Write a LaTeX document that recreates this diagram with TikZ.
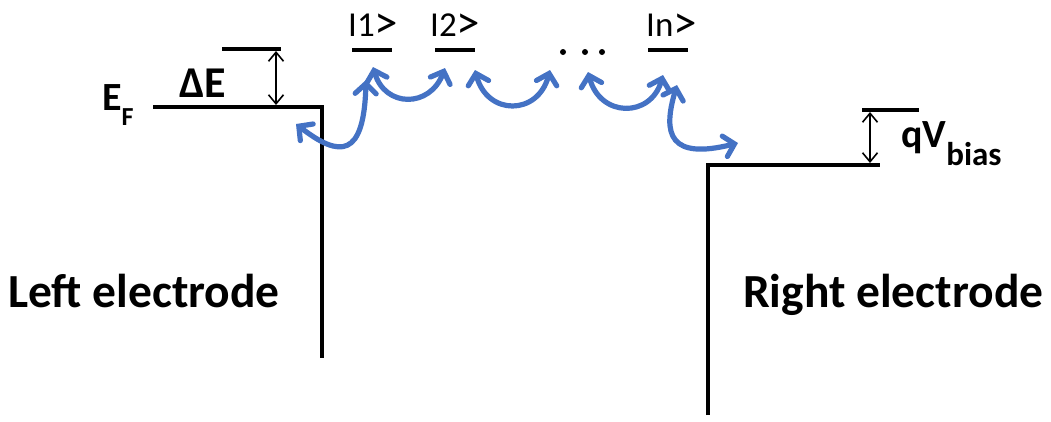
\documentclass[tikz,border=0pt]{standalone}
\usepackage{fontspec}
\setmainfont{Carlito}
\usetikzlibrary{arrows.meta}
\definecolor{arrowblue}{HTML}{4472C4}
\newcommand{\ket}{\raisebox{-2.5pt}{\fontsize{47}{48}\selectfont >}}
\begin{document}
\begin{tikzpicture}[x=1pt,y=-1pt,
  level/.style={line width=4.5pt},
  bluearrow/.style={arrowblue, line width=5.2pt, line cap=round,
    {Straight Barb[length=10pt,width=21pt,line cap=round]}-{Straight Barb[length=10pt,width=21pt,line cap=round]}},
  gaparrow/.style={line width=1.6pt,
    {Straight Barb[length=9pt,width=15pt]}-{Straight Barb[length=9pt,width=15pt]}},
  biglabel/.style={font=\bfseries\fontsize{47.5}{50}\selectfont, inner sep=0pt, anchor=base west},
  statelabel/.style={font=\fontsize{35}{38}\selectfont, inner sep=0pt, anchor=base west},
  dot/.style={circle, fill=black, inner sep=0pt, minimum size=6pt}]
\useasboundingbox (0,0) rectangle (1051,421);

% left electrode
\coordinate (LF) at (153,107);
\coordinate (LC) at (322,107);
\coordinate (LB) at (322,358);
\draw[level] (LF) -- (LC) -- (LB);
% Delta E level
\coordinate (DL) at (222,49);
\coordinate (DR) at (281,49);
\draw[level] (DL) -- (DR);
\coordinate (DAt) at (276,51);
\coordinate (DAb) at (276,105);
\draw[gaparrow] (DAt) -- (DAb);

% right electrode
\coordinate (RB) at (708,415);
\coordinate (RC) at (708,165);
\coordinate (RF) at (880,165);
\draw[level] (RB) -- (RC) -- (RF);
\coordinate (QL) at (862,110);
\coordinate (QR) at (919,110);
\draw[level] (QL) -- (QR);
\coordinate (QAt) at (870,112);
\coordinate (QAb) at (870,163);
\draw[gaparrow] (QAt) -- (QAb);

% molecular states
\coordinate (S1L) at (352,50); \coordinate (S1R) at (392,50);
\coordinate (S2L) at (435,50); \coordinate (S2R) at (475,50);
\coordinate (SnL) at (648,50); \coordinate (SnR) at (688,50);
\draw[level] (S1L) -- (S1R);
\draw[level] (S2L) -- (S2R);
\draw[level] (SnL) -- (SnR);
\node[statelabel] (t1) at (348,36) {I1\ket};
\node[statelabel] (t2) at (430,36) {I2\ket};
\node[statelabel] (tn) at (646,36) {In\ket};
\node[dot] (d1) at (563,52) {};
\node[dot] (d2) at (585,52) {};
\node[dot] (d3) at (602,52) {};

% labels
\node[biglabel] (left) at (8,307) {Left electrode};
\node[biglabel] (right) at (743,307) {Right electrode};
\node[font=\bfseries\fontsize{44}{46}\selectfont, inner sep=0pt, anchor=base west] (dE) at (179,97) {ΔE};
\node[font=\bfseries\fontsize{40}{42}\selectfont, inner sep=0pt, anchor=base west] (EF) at (102,110)
  {E\raisebox{-15pt}{\fontsize{26}{28}\selectfont F}};
\node[font=\bfseries\fontsize{40}{42}\selectfont, inner sep=0pt, anchor=base west] (qV) at (901,147)
  {qV\raisebox{-18pt}{\fontsize{33}{35}\selectfont bias}};

% blue transfer arrows
\coordinate (A1) at (296,124); \coordinate (A2) at (366,80);
\coordinate (B1) at (373,67);  \coordinate (B2) at (445,68);
\coordinate (C1) at (475,70);  \coordinate (C2) at (550,70);
\coordinate (D1) at (588,72);  \coordinate (D2) at (663,75);
\coordinate (E1) at (677,85);  \coordinate (E2) at (738,143);
\draw[bluearrow] (A1) .. controls (340,158) and (364,158) .. (A2);
\draw[bluearrow] (B1) .. controls (385,108) and (430,108) .. (B2);
\draw[bluearrow] (C1) .. controls (487,116) and (538,116) .. (C2);
\draw[bluearrow] (D1) .. controls (600,118) and (651,118) .. (D2);
\draw[bluearrow] (E1) .. controls (662,135) and (670,160) .. (E2);
\end{tikzpicture}
\end{document}
